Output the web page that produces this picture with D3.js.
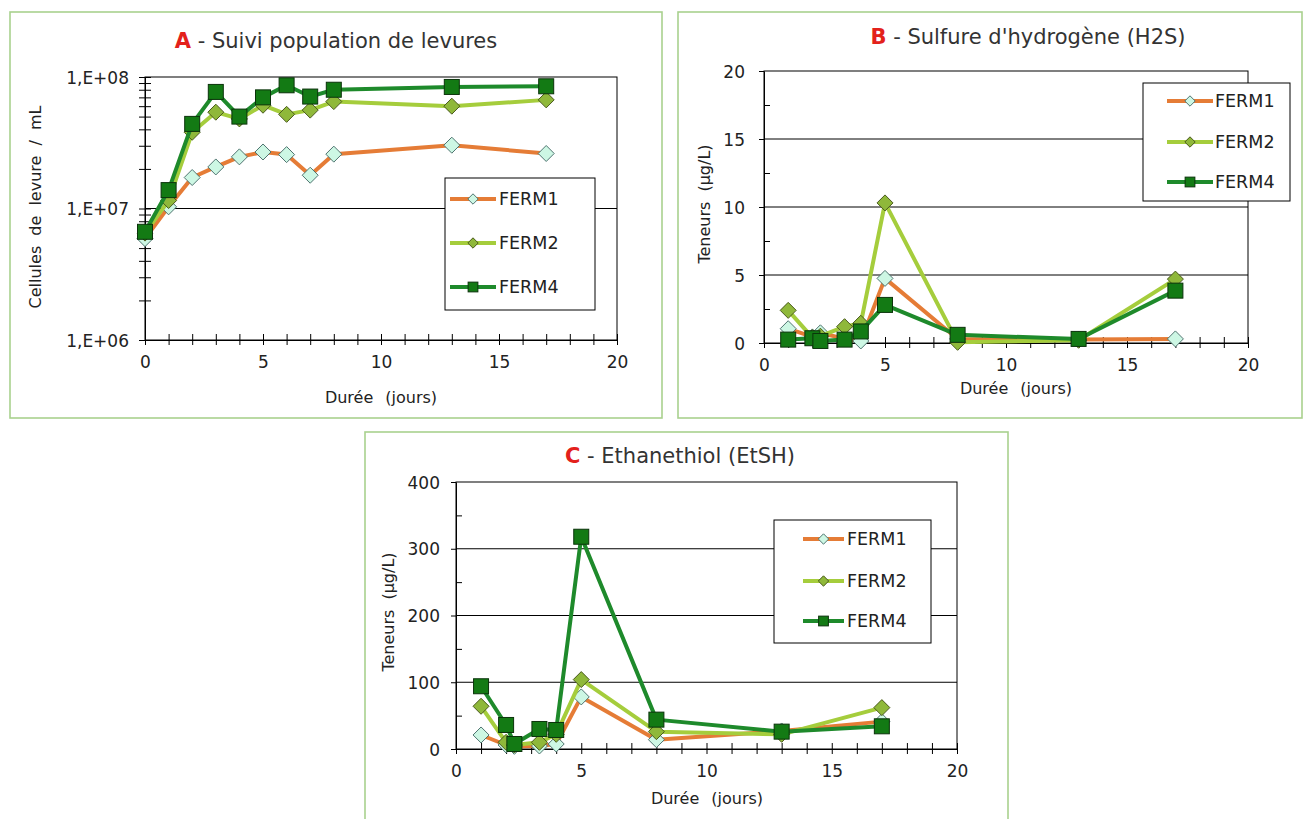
<!DOCTYPE html>
<html>
<head>
<meta charset="utf-8">
<script src="https://cdn.jsdelivr.net/npm/d3@7"></script>
<style>
  body { margin: 0; background: #fff; }
  text { font-family: "DejaVu Sans", Verdana, sans-serif; fill: #222; }
</style>
</head>
<body>
<svg id="chart" width="1306" height="819"></svg>
<script>
// ---- data ----
const seriesNames = ["FERM1", "FERM2", "FERM4"];
const seriesColors = ["#e57c36", "#a5cd3c", "#1e8a2b"];

// A - yeast population (cells / mL), log scale
const daysA = [0, 1, 2, 3, 4, 5, 6, 7, 8, 13, 17];
const ferm1A = [5.9e6, 1.03e7, 1.72e7, 2.07e7, 2.47e7, 2.69e7, 2.57e7, 1.79e7, 2.59e7, 3.03e7, 2.62e7];
const ferm2A = [6.5e6, 1.15e7, 3.8e7, 5.4e7, 4.8e7, 6.1e7, 5.2e7, 5.6e7, 6.5e7, 6.0e7, 6.7e7];
const ferm4A = [6.65e6, 1.38e7, 4.4e7, 7.7e7, 5.0e7, 7.0e7, 8.65e7, 7.1e7, 8.0e7, 8.4e7, 8.5e7];

// B and C share the sampling days
const daysBC = [1, 2, 2.33, 3.33, 4, 5, 8, 13, 17];
// B - H2S (µg/L)
const ferm1B = [1.05, 0.45, 0.75, 0.3, 0.15, 4.75, 0.3, 0.25, 0.3];
const ferm2B = [2.4, 0.4, 0.5, 1.2, 1.45, 10.3, 0.05, 0.2, 4.7];
const ferm4B = [0.25, 0.35, 0.15, 0.25, 0.85, 2.8, 0.6, 0.3, 3.85];
// C - EtSH (µg/L)
const ferm1C = [21, 6, 4, 4.5, 7.5, 78, 14, 27, 41];
const ferm2C = [64, 10, 6, 10, 22, 104, 26, 22, 62];
const ferm4C = [94, 36, 7.5, 30, 28.5, 318, 44, 26, 34];

const xTicksLabels = [0, 5, 10, 15, 20];
const yTicksA = [1e6, 1e7, 1e8];
const yTicksB = [0, 5, 10, 15, 20];
const yTicksC = [0, 100, 200, 300, 400];

const svg = d3.select("#chart");

function fmtSci(v) {
  const e = Math.round(Math.log10(v));
  return "1,E+" + (e < 10 ? "0" + e : e);
}

function drawPanel(cfg) {
  const g = svg.append("g");

  // panel frame
  g.append("rect")
    .attr("x", cfg.box[0]).attr("y", cfg.box[1])
    .attr("width", cfg.box[2]).attr("height", cfg.box[3])
    .attr("fill", "#fff").attr("stroke", "#a9d18e").attr("stroke-width", 1.6);

  const x = d3.scaleLinear().domain([0, 20]).range([cfg.plot[0], cfg.plot[1]]);
  const y = (cfg.log ? d3.scaleLog() : d3.scaleLinear())
    .domain(cfg.yDomain).range([cfg.plot[3], cfg.plot[2]]);

  // horizontal grid lines
  g.selectAll(".grid")
    .data(cfg.yTicks.slice(1, -1))
    .enter().append("line")
    .attr("x1", x(0)).attr("x2", x(20))
    .attr("y1", d => y(d)).attr("y2", d => y(d))
    .attr("stroke", "#000").attr("stroke-width", 1);

  // plot area frame
  g.append("rect")
    .attr("x", x(0)).attr("y", y(cfg.yDomain[1]))
    .attr("width", x(20) - x(0)).attr("height", y(cfg.yDomain[0]) - y(cfg.yDomain[1]))
    .attr("fill", "none").attr("stroke", "#000").attr("stroke-width", 1);

  // x axis: ticks every day, crossing the axis
  const xAxis = g.append("g")
    .attr("transform", `translate(0,${y(cfg.yDomain[0])})`)
    .call(d3.axisBottom(x).tickValues(d3.range(0, 21)).tickSize(5)
      .tickFormat(d => xTicksLabels.includes(d) ? d : ""));
  xAxis.select(".domain").attr("stroke", "#000");
  xAxis.selectAll(".tick line").attr("y1", -6).attr("stroke", "#000");
  xAxis.selectAll(".tick text").attr("y", cfg.xLabelDy).attr("dy", 0)
    .style("font-size", "17px").style("font-family", "DejaVu Sans").attr("fill", "#222");

  // y axis
  let yAxis;
  if (cfg.log) {
    const minor = [];
    [1e6, 1e7].forEach(b => d3.range(2, 10).forEach(k => minor.push(b * k)));
    yAxis = g.append("g").attr("transform", `translate(${x(0)},0)`)
      .call(d3.axisLeft(y).tickValues(cfg.yTicks.concat(minor)).tickSize(6)
        .tickFormat(d => cfg.yTicks.includes(d) ? fmtSci(d) : ""));
    yAxis.selectAll(".tick line").attr("x1", 6);
  } else {
    const step = cfg.yTicks[1] - cfg.yTicks[0];
    const minor = cfg.yTicks.slice(0, -1).map(d => d + step / 2);
    yAxis = g.append("g").attr("transform", `translate(${x(0)},0)`)
      .call(d3.axisLeft(y).tickValues(cfg.yTicks.concat(minor)).tickSize(0)
        .tickFormat(d => cfg.yTicks.includes(d) ? d : ""));
    yAxis.selectAll(".tick line").attr("x1", 0).attr("x2", 6);
    yAxis.selectAll(".tick").filter(d => cfg.yTicks.includes(d)).select("line").attr("x2", -5);
  }
  yAxis.select(".domain").attr("stroke", "#000");
  yAxis.selectAll(".tick line").attr("stroke", "#000");
  yAxis.selectAll(".tick text").attr("x", -cfg.yLabelGap).attr("dy", "0.36em")
    .style("font-size", "17px").style("font-family", "DejaVu Sans").attr("fill", "#222");

  // series
  const line = d3.line().x(d => x(d[0])).y(d => y(d[1]));
  cfg.series.forEach((vals, i) => {
    const pts = cfg.days.map((d, j) => [d, vals[j]]);
    g.append("path").datum(pts)
      .attr("d", line).attr("fill", "none")
      .attr("stroke", seriesColors[i]).attr("stroke-width", 4)
      .attr("stroke-linejoin", "round");
    drawMarkers(g, pts.map(p => [x(p[0]), y(p[1])]), i, 1);
  });

  // title
  const t = g.append("text")
    .attr("x", cfg.title[0]).attr("y", cfg.title[1])
    .attr("text-anchor", "middle")
    .style("font-size", "21px");
  t.append("tspan").text(cfg.letter).attr("fill", "#e3211b").style("font-weight", "bold");
  t.append("tspan").text(" - " + cfg.titleText).attr("fill", "#333");

  // axis titles
  g.append("text")
    .attr("transform", `translate(${cfg.yTitle[0]},${cfg.yTitle[1]}) rotate(-90)`)
    .attr("text-anchor", "middle").attr("dy", "0.35em")
    .style("font-size", "16px").style("word-spacing", "5px")
    .attr("fill", "#333")
    .text(cfg.yTitleText);
  g.append("text")
    .attr("x", cfg.xTitle[0]).attr("y", cfg.xTitle[1])
    .attr("text-anchor", "middle").attr("dy", "0.35em")
    .style("font-size", "16px").style("word-spacing", "7px")
    .attr("fill", "#333")
    .text("Durée (jours)");

  // legend
  const lg = cfg.legend;
  g.append("rect")
    .attr("x", lg.box[0]).attr("y", lg.box[1])
    .attr("width", lg.box[2]).attr("height", lg.box[3])
    .attr("fill", "#fff").attr("stroke", "#000").attr("stroke-width", 1);
  seriesNames.forEach((name, i) => {
    const yy = lg.rows[i];
    g.append("line")
      .attr("x1", lg.lineX[0]).attr("x2", lg.lineX[1])
      .attr("y1", yy).attr("y2", yy)
      .attr("stroke", seriesColors[i]).attr("stroke-width", 4);
    drawMarkers(g, [[(lg.lineX[0] + lg.lineX[1]) / 2, yy]], i, 0.65);
    g.append("text")
      .attr("x", lg.textX).attr("y", yy).attr("dy", "0.36em")
      .style("font-size", "17.5px").attr("fill", "#222")
      .text(name);
  });
}

function drawMarkers(g, pts, i, k) {
  if (i === 2) {
    const s = 15 * k;
    g.selectAll(null).data(pts).enter().append("rect")
      .attr("x", d => d[0] - s / 2).attr("y", d => d[1] - s / 2)
      .attr("width", s).attr("height", s)
      .attr("fill", "#137a14").attr("stroke", "#0b330b").attr("stroke-width", 1);
  } else {
    const r = 8 * k;
    const fill = i === 0 ? "#cdf7e4" : "#8fb83a";
    const stroke = i === 0 ? "#4f7470" : "#4a5a1c";
    g.selectAll(null).data(pts).enter().append("path")
      .attr("d", d => `M${d[0]},${d[1] - r}L${d[0] + r},${d[1]}L${d[0]},${d[1] + r}L${d[0] - r},${d[1]}Z`)
      .attr("fill", fill).attr("stroke", stroke).attr("stroke-width", 1);
  }
}

drawPanel({
  box: [10, 12, 652, 406],
  plot: [145, 617, 77, 340],
  log: true, yDomain: [1e6, 1e8], yTicks: yTicksA,
  days: daysA, series: [ferm1A, ferm2A, ferm4A],
  xLabelDy: 28, yLabelGap: 16,
  title: [336, 48], letter: "A", titleText: "Suivi population de levures",
  yTitle: [35, 207], yTitleText: "Cellules de levure / mL",
  xTitle: [381, 397],
  legend: { box: [445, 178, 150, 132], rows: [199, 243, 287], lineX: [450, 496], textX: 499 }
});

drawPanel({
  box: [678, 12, 624, 406],
  plot: [764, 1248, 71, 343],
  log: false, yDomain: [0, 20], yTicks: yTicksB,
  days: daysBC, series: [ferm1B, ferm2B, ferm4B],
  xLabelDy: 28, yLabelGap: 19,
  title: [1028, 44], letter: "B", titleText: "Sulfure d'hydrogène (H2S)",
  yTitle: [704, 204], yTitleText: "Teneurs (µg/L)",
  xTitle: [1016, 388],
  legend: { box: [1143, 83, 147, 118], rows: [101, 142, 182], lineX: [1167, 1213], textX: 1215 }
});

drawPanel({
  box: [365, 432, 643, 390],
  plot: [456, 957, 482, 749],
  log: false, yDomain: [0, 400], yTicks: yTicksC,
  days: daysBC, series: [ferm1C, ferm2C, ferm4C],
  xLabelDy: 28, yLabelGap: 16,
  title: [680, 463], letter: "C", titleText: "Ethanethiol (EtSH)",
  yTitle: [388, 612], yTitleText: "Teneurs (µg/L)",
  xTitle: [707, 798],
  legend: { box: [774, 520, 157, 123], rows: [539, 581, 621], lineX: [803, 844], textX: 847 }
});
</script>
</body>
</html>
